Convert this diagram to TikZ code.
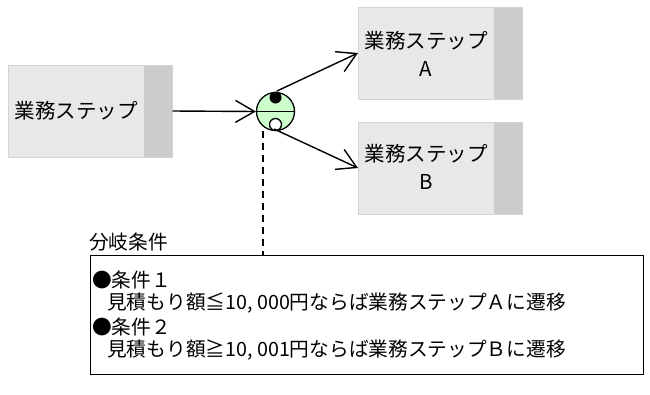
\documentclass[tikz,border=0pt]{standalone}
\usepackage{fontspec}
\setmainfont{Noto Sans CJK JP}
\usetikzlibrary{arrows.meta}
\definecolor{boxfill}{HTML}{E8E8E8}
\definecolor{boxstrip}{HTML}{CCCCCC}
\definecolor{boxline}{HTML}{D4D4D4}
\definecolor{branchfill}{HTML}{CCFFCC}
\tikzset{
  stepbox/.style={draw=boxline, line width=1pt, fill=boxfill, minimum width=164pt, minimum height=92pt, inner sep=0pt},
  steptext/.style={font=\fontsize{20.5pt}{28pt}\selectfont, align=center, inner sep=0pt},
  flow/.style={line width=1.4pt, -{Straight Barb[length=19pt, width=22pt, line width=1.4pt]}},
  condtext/.style={font=\fontsize{19.7pt}{23pt}\selectfont, anchor=west, inner sep=0pt},
}
\begin{document}
\begin{tikzpicture}[x=1pt, y=-1pt]
\useasboundingbox (0,0) rectangle (650,394);
% step boxes
\node[stepbox] (s0) at (90,111) {};
\fill[boxstrip] (144,65.5) rectangle (171.5,156.5);
\node[steptext] (t0) at (76,111) {業務ステップ};
\node[stepbox] (sa) at (440.5,53) {};
\fill[boxstrip] (494,7.5) rectangle (522.5,98.5);
\node[steptext] (ta) at (426,54) {業務ステップ\\A};
\node[stepbox] (sb) at (440.5,168) {};
\fill[boxstrip] (494,122.5) rectangle (522.5,213.5);
\node[steptext] (tb) at (426,167) {業務ステップ\\B};
% branch symbol
\node[circle, draw, line width=1.3pt, fill=branchfill, minimum size=38pt, inner sep=0pt] (br) at (275.5,111.5) {};
\draw[line width=1.3pt] (br.west) -- (br.east);
\node[circle, fill=black, minimum size=12pt, inner sep=0pt] (dotA) at (275.5,97.5) {};
\node[circle, draw, line width=1.3pt, fill=white, minimum size=12pt, inner sep=0pt] (dotB) at (275.5,124.5) {};
\coordinate (outA) at (277,91);
\coordinate (outB) at (274,129);
% connectors
\draw[flow] (s0.east) -- (br.west);
\draw[flow] (outA) -- (sa.west);
\draw[flow] (outB) -- (sb.west);
% condition box
\node[draw, line width=1pt, minimum width=553pt, minimum height=119pt, inner sep=0pt] (cond) at (366.5,314.5) {};
\coordinate (dtop) at (263,131);
\draw[line width=1.3pt, dash pattern=on 7pt off 5pt] (dtop) -- (dtop |- cond.north);
\node[condtext] (lbl) at (89,242) {分岐条件};
\node[condtext] (c1) at (92,280) {●条件１};
\node[condtext] (c1t) at (107,303) {見積もり額≦10, 000円ならば業務ステップＡに遷移};
\node[condtext] (c2) at (92,327) {●条件２};
\node[condtext] (c2t) at (107,350) {見積もり額≧10, 001円ならば業務ステップＢに遷移};
\end{tikzpicture}
\end{document}
